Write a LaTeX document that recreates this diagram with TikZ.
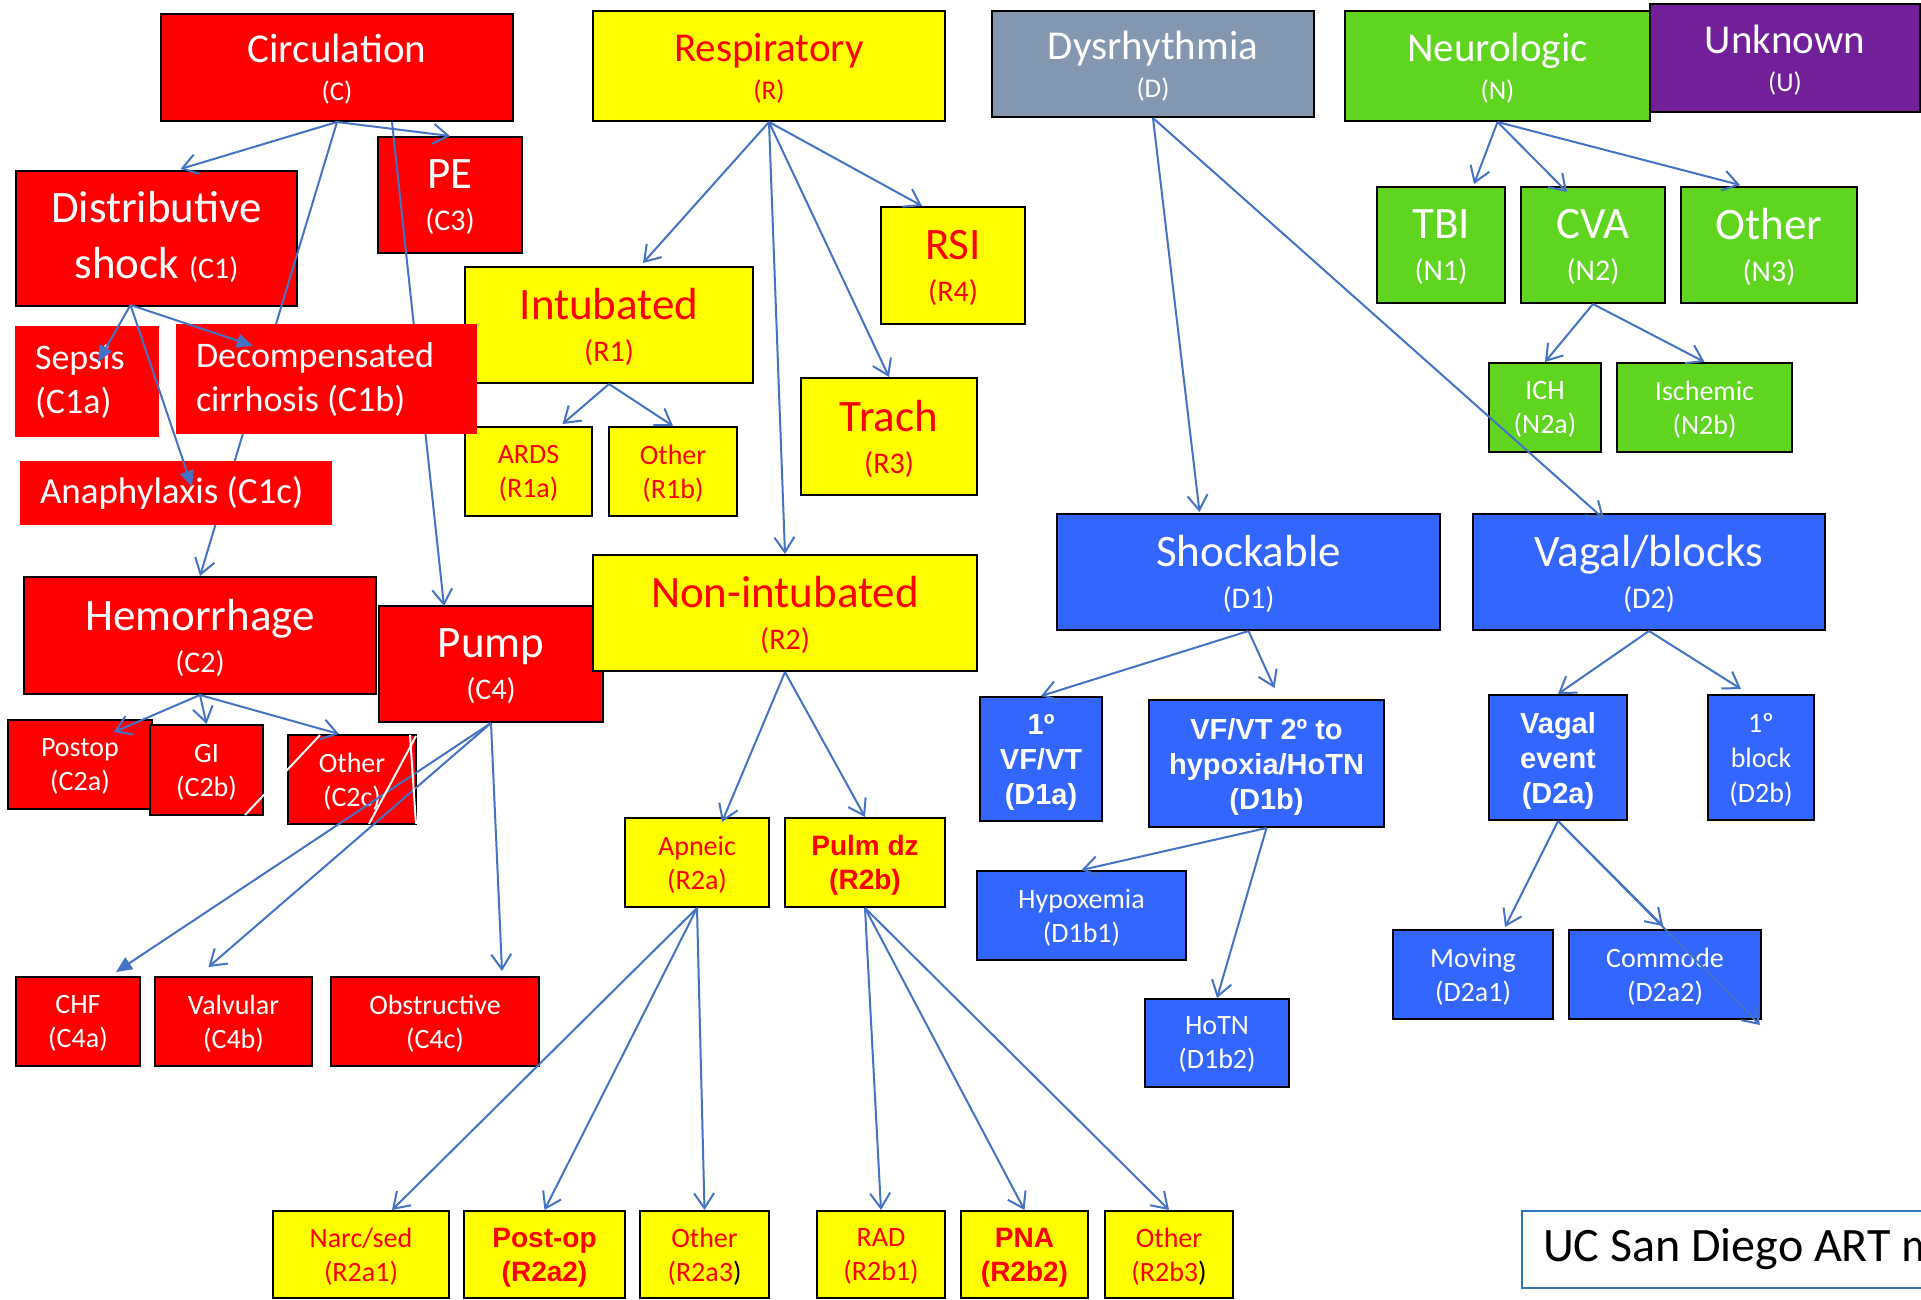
\documentclass[tikz,border=0pt]{standalone}
\usepackage{fontspec}
\setmainfont{Carlito}
\newfontfamily\arialfont{Liberation Sans}
\usetikzlibrary{arrows.meta,calc}
\definecolor{cred}{HTML}{FF0000}
\definecolor{cyel}{HTML}{FFFF00}
\definecolor{cgray}{HTML}{8497B0}
\definecolor{cgrn}{HTML}{5FD520}
\definecolor{cpur}{HTML}{721F9A}
\definecolor{cblu}{HTML}{3366FF}
\definecolor{cline}{HTML}{4472C4}
\definecolor{cuc}{HTML}{2E75B6}
\newcommand{\cA}[1]{{\fontsize{27}{38}\selectfont #1}}
\newcommand{\cB}[1]{{\fontsize{30}{42}\selectfont #1}}
\begin{document}
\begin{tikzpicture}[x=1pt,y=-1pt,
  box/.style={draw=black,line width=2pt,inner sep=0pt,align=center,text depth=0pt},
  dims/.style 2 args={minimum width=#1,minimum height=#2},
  redbox/.style={box,fill=cred,text=white},
  flatred/.style={fill=cred,text=white,inner xsep=20pt,inner ysep=0pt,align=flush left},
  yelbox/.style={box,fill=cyel,text=cred},
  graybox/.style={box,fill=cgray,text=white},
  grnbox/.style={box,fill=cgrn,text=white},
  purbox/.style={box,fill=cpur,text=white},
  blubox/.style={box,fill=cblu,text=white},
  fA/.style={font=\fontsize{41}{38}\selectfont},
  fB/.style={font=\fontsize{45}{42}\selectfont},
  fC/.style={font=\fontsize{28}{34}\selectfont},
  fCb/.style={font=\arialfont\bfseries\fontsize{28}{34}\selectfont},
  fD/.style={font=\arialfont\bfseries\fontsize{29}{35}\selectfont},
  fDr/.style={font=\fontsize{28}{35}\selectfont},
  fS/.style={font=\fontsize{36}{44}\selectfont},
  link/.style={draw=cline,line width=2pt,-{Straight Barb[length=15pt,width=20pt]}},
  flink/.style={draw=cline,line width=2pt,-{Triangle[length=16pt,width=14pt]}},
  glitch/.style={draw=white,line width=2pt}]
\useasboundingbox (0,0) rectangle (1921,1300);
\clip (0,0) rectangle (1921,1300);

\node[redbox,fA,dims={352pt}{107pt}] (C) at (337,67.5) {Circulation\\\cA{(C)}};
\node[yelbox,fA,dims={352pt}{110pt}] (R) at (769,66) {Respiratory\\\cA{(R)}};
\node[graybox,fA,dims={322pt}{106pt}] (D) at (1153,64) {Dysrhythmia\\\cA{(D)}};
\node[grnbox,fA,dims={305pt}{110pt}] (N) at (1497.5,66) {Neurologic\\\cA{(N)}};
\node[purbox,fA,dims={270pt}{108pt}] (U) at (1785,58) {Unknown\\\cA{(U)}};

\node[redbox,fB,dims={281pt}{135pt},text depth=8pt] (C1) at (156.5,238.5) {Distributive\\[14pt]shock \cB{(C1)}};
\node[redbox,fB,dims={144pt}{116pt}] (C3) at (450,195) {PE\\\cB{(C3)}};
\node[redbox,fB,dims={352pt}{117pt}] (C2) at (200,635.5) {Hemorrhage\\\cB{(C2)}};
\node[redbox,fB,dims={224pt}{116pt}] (C4) at (491,664) {Pump\\\cB{(C4)}};
\node[redbox,fC,dims={144pt}{89pt}] (C2a) at (80,764.5) {Postop\\(C2a)};
\node[redbox,fC,dims={113pt}{90pt}] (C2b) at (206.5,770) {GI\\(C2b)};
\node[redbox,fC,dims={128pt}{89pt}] (C2c) at (352,779.5) {Other\\(C2c)};
\node[redbox,fC,dims={124pt}{89pt}] (C4a) at (78,1021.5) {CHF\\(C4a)};
\node[redbox,fC,dims={157pt}{89pt}] (C4b) at (233.5,1021.5) {Valvular\\(C4b)};
\node[redbox,fC,dims={208pt}{89pt}] (C4c) at (435,1021.5) {Obstructive\\(C4c)};

\node[yelbox,fB,dims={288pt}{116pt}] (R1) at (609,325) {Intubated\\\cB{(R1)}};
\node[yelbox,fB,dims={144pt}{117pt}] (R4) at (953,265.5) {RSI\\\cB{(R4)}};
\node[yelbox,fB,dims={176pt}{117pt}] (R3) at (889,436.5) {Trach\\\cB{(R3)}};
\node[yelbox,fB,dims={384pt}{116pt}] (R2) at (785,613) {Non-intubated\\\cB{(R2)}};
\node[yelbox,fC,dims={127pt}{89pt}] (R1a) at (528.5,471.5) {ARDS\\(R1a)};
\node[yelbox,fC,dims={128pt}{89pt}] (R1b) at (673,471.5) {Other\\(R1b)};
\node[yelbox,fC,dims={144pt}{89pt}] (R2a) at (697,862.5) {Apneic\\(R2a)};
\node[yelbox,fCb,dims={160pt}{89pt}] (R2b) at (865,862.5) {Pulm dz\\(R2b)};
\node[yelbox,fC,dims={176pt}{87pt}] (R2a1) at (361,1254.5) {Narc/sed\\(R2a1)};
\node[yelbox,fCb,dims={161pt}{87pt}] (R2a2) at (544.5,1254.5) {Post-op\\(R2a2)};
\node[yelbox,fC,dims={129pt}{87pt}] (R2a3) at (704.5,1254.5) {Other\\(R2a3\textcolor{black}{)}};
\node[yelbox,fC,dims={128pt}{87pt}] (R2b1) at (881,1254.5) {RAD\\(R2b1)};
\node[yelbox,fCb,dims={127pt}{87pt}] (R2b2) at (1024.5,1254.5) {PNA\\(R2b2)};
\node[yelbox,fC,dims={128pt}{87pt}] (R2b3) at (1169,1254.5) {Other\\(R2b3\textcolor{black}{)}};

\node[blubox,fB,dims={383pt}{116pt}] (D1) at (1248.5,572) {Shockable\\\cB{(D1)}};
\node[blubox,fB,dims={352pt}{116pt}] (D2) at (1649,572) {Vagal/blocks\\\cB{(D2)}};
\node[blubox,fD,dims={122pt}{124pt}] (D1a) at (1041,759) {1º\\VF/VT\\(D1a)};
\node[blubox,fD,dims={235pt}{127pt}] (D1b) at (1266.5,763.5) {VF/VT 2º to\\hypoxia/HoTN\\(D1b)};
\node[blubox,fD,dims={138pt}{125pt}] (D2a) at (1558,757.5) {Vagal\\event\\(D2a)};
\node[blubox,fDr,dims={106pt}{125pt}] (D2b) at (1761,757.5) {1º\\block\\(D2b)};
\node[blubox,fC,dims={209pt}{89pt}] (D1b1) at (1081.5,915.5) {Hypoxemia\\(D1b1)};
\node[blubox,fC,dims={144pt}{88pt}] (D1b2) at (1217,1043) {HoTN\\(D1b2)};
\node[blubox,fC,dims={160pt}{89pt}] (D2a1) at (1473,974.5) {Moving\\(D2a1)};
\node[blubox,fC,dims={192pt}{89pt}] (D2a2) at (1665,974.5) {Commode\\(D2a2)};

\node[grnbox,fB,dims={128pt}{116pt}] (N1) at (1441,245) {TBI\\\cB{(N1)}};
\node[grnbox,fB,dims={144pt}{116pt}] (N2) at (1593,245) {CVA\\\cB{(N2)}};
\node[grnbox,fB,dims={176pt}{116pt}] (N3) at (1769,245) {Other\\\cB{(N3)}};
\node[grnbox,fC,dims={112pt}{89pt}] (N2a) at (1545,407.5) {ICH\\(N2a)};
\node[grnbox,fC,dims={175pt}{89pt}] (N2b) at (1704.5,407.5) {Ischemic\\(N2b)};

\draw[link] (C.south) -- (C2.north);
\draw[link] ($(C.south)+(55,0)$) -- ($(C4.north)+(-47,1)$);

\node[flatred,fS,text width=104pt,minimum height=111pt] (C1a) at (87,381.5) {Sepsis\\(C1a)};
\node[flatred,fS,text width=261pt,minimum height=110pt] (C1b) at (326.5,379) {Decompensated\\cirrhosis (C1b)};
\node[flatred,font=\fontsize{37}{44}\selectfont,text width=272pt,minimum height=64pt] (C1c) at (176,493) {Anaphylaxis (C1c)};

\draw[link] (C.south) -- ($(C1.north)+(24,-1)$);
\draw[link] (C.south) -- (C3.north);
\coordinate (c1o) at ($(C1.south)+(-26,-2)$);
\draw[flink] (c1o) -- ($(C1a.north)+(11,36)$);
\draw[flink] (c1o) -- ($(C1b.north west)+(77,22)$);
\draw[flink] (c1o) -- ($(C1c.north)+(16,26)$);
\draw[link] (C2.south) -- ($(C2a.north)+(34,13)$);
\draw[link] (C2.south) -- (C2b.north);
\draw[link] (C2.south) -- ($(C2c.north)+(-13,0)$);
\draw[flink] (C4.south) -- ($(C4a.north)+(38,-4)$);
\draw[link] (C4.south) -- ($(C4b.north)+(-25,-9)$);
\draw[link] (C4.south) -- ($(C4c.north)+(67,-5)$);

\draw[link] (R.south) -- ($(R1.north)+(34,-3)$);
\draw[link] (R.south) -- ($(R4.north)+(-31,0)$);
\draw[link] (R.south) -- (R3.north);
\draw[link] (R.south) -- (R2.north);
\draw[link] (R1.south) -- ($(R1a.north)+(34,-2)$);
\draw[link] (R1.south) -- (R1b.north);
\draw[link] (R2.south) -- ($(R2a.north)+(25,5)$);
\draw[link] (R2.south) -- (R2b.north);
\draw[link] (R2a.south) -- ($(R2a1.north)+(31,0)$);
\draw[link] (R2a.south) -- (R2a2.north);
\draw[link] (R2a.south) -- (R2a3.north);
\draw[link] (R2b.south) -- (R2b1.north);
\draw[link] (R2b.south) -- (R2b2.north);
\draw[link] (R2b.south) -- (R2b3.north);

\draw[link] (D.south) -- ($(D1.north)+(-49,-1)$);
\draw[link] (D.south) -- ($(D2.north)+(-45,6)$);
\draw[link] (D1.south) -- (D1a.north);
\draw[link] (D1.south) -- ($(D1b.north)+(8,-11)$);
\draw[link] (D2.south) -- (D2a.north);
\draw[link] (D2.south) -- ($(D2b.north)+(-20,-5)$);
\draw[link] (D1b.south) -- (D1b1.north);
\draw[link] (D1b.south) -- (D1b2.north);
\draw[link] (D2a.south) -- ($(D2a1.north)+(32,-2)$);
\draw[link] (D2a.south) -- ($(D2a2.north)+(-2,-3)$);
\coordinate (d2end) at (1760,1025);
\draw[link] (D2a.south) -- (d2end);

\draw[link] (N.south) -- ($(N1.north)+(33,-2)$);
\draw[link] (N.south) -- ($(N2.north)+(-26,6)$);
\draw[link] (N.south) -- ($(N3.north)+(-29,-1)$);
\draw[link] (N2.south) -- (N2a.north);
\draw[link] (N2.south) -- (N2b.north);

\draw[glitch] (245,815) -- (320,735);
\draw[glitch] (369,824) -- (416,736);
\draw[glitch] (410,735) -- (416,824);

\node[draw=cuc,line width=2pt,fill=white,anchor=west,inner xsep=21pt,inner ysep=0pt,
  text width=520pt,minimum height=77pt,align=flush left,font=\fontsize{48}{52}\selectfont]
  (UC) at (1521,1249.5) {UC San Diego ART m};
\end{tikzpicture}
\end{document}
